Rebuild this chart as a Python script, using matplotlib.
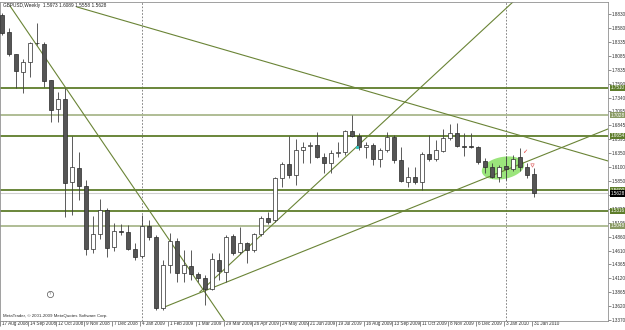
import matplotlib
matplotlib.use("Agg")
import matplotlib.pyplot as plt
import numpy as np
from matplotlib.transforms import blended_transform_factory, ScaledTranslation

plt.rcParams['font.family'] = ['Liberation Sans', 'DejaVu Sans']

# weekly GBPUSD candles, 17 Aug 2008 .. 31 Jan 2010
opens = [1.8812, 1.8509, 1.8117, 1.7796, 1.7974, 1.8305, 1.8295, 1.7653, 1.7135, 1.7314,
         1.5833, 1.6083, 1.5762, 1.4638, 1.4905, 1.5334, 1.4674, 1.4959, 1.4941, 1.4638,
         1.4513, 1.5048, 1.4852, 1.3585, 1.4352, 1.4781, 1.4210, 1.4335, 1.4192, 1.4120,
         1.3924, 1.4442, 1.4228, 1.4870, 1.4584, 1.4745, 1.4620, 1.4905, 1.5191, 1.5155,
         1.5905, 1.6154, 1.5958, 1.6404, 1.6475, 1.6493, 1.6279, 1.6172, 1.6351, 1.6368,
         1.6743, 1.6654, 1.6458, 1.6493, 1.6243, 1.6404, 1.6636, 1.6226, 1.5833, 1.5922,
         1.5833, 1.6333, 1.6243, 1.6386, 1.6618, 1.6707, 1.6475, 1.6475, 1.6458, 1.6208,
         1.6101, 1.5922, 1.6119, 1.6065, 1.6279, 1.6101, 1.5973]
highs = [1.8848, 1.8580, 1.8117, 1.8027, 1.8331, 1.8670, 1.8331, 1.7653, 1.7439, 1.7510,
         1.6654, 1.6368, 1.5869, 1.5227, 1.5530, 1.5369, 1.5102, 1.5084, 1.5066, 1.4745,
         1.5244, 1.5155, 1.4888, 1.4442, 1.4923, 1.4834, 1.4620, 1.4620, 1.4228, 1.4174,
         1.4567, 1.4567, 1.4888, 1.4905, 1.5030, 1.4763, 1.4923, 1.5227, 1.5298, 1.5922,
         1.6190, 1.6654, 1.6600, 1.6547, 1.6547, 1.6725, 1.6351, 1.6404, 1.6547, 1.6761,
         1.7028, 1.6707, 1.6547, 1.6529, 1.6440, 1.6725, 1.6672, 1.6458, 1.6101, 1.6101,
         1.6368, 1.6672, 1.6582, 1.6779, 1.6868, 1.6886, 1.6707, 1.6707, 1.6475, 1.6261,
         1.6172, 1.6136, 1.6297, 1.6315, 1.6440, 1.6172, 1.6089]
lows = [1.8456, 1.8081, 1.7510, 1.7421, 1.7706, 1.8277, 1.7528, 1.6904, 1.6904, 1.5209,
        1.5244, 1.5512, 1.4531, 1.4567, 1.4816, 1.4495, 1.4602, 1.4888, 1.4620, 1.4442,
        1.4477, 1.4798, 1.3550, 1.3550, 1.4210, 1.4049, 1.4049, 1.4085, 1.4049, 1.3639,
        1.3906, 1.4085, 1.4049, 1.4531, 1.4549, 1.4388, 1.4584, 1.4870, 1.5084, 1.5120,
        1.5744, 1.5905, 1.5780, 1.6172, 1.6172, 1.6261, 1.5994, 1.5994, 1.6279, 1.6315,
        1.6636, 1.6404, 1.6261, 1.6136, 1.6101, 1.6368, 1.6172, 1.5833, 1.5744, 1.5797,
        1.5690, 1.6208, 1.6208, 1.6368, 1.6582, 1.6458, 1.6297, 1.6440, 1.6154, 1.5994,
        1.5905, 1.5833, 1.5869, 1.6029, 1.6029, 1.5905, 1.5558]
closes = [1.8491, 1.8117, 1.7813, 1.7974, 1.8313, 1.8313, 1.7635, 1.7118, 1.7314, 1.5815,
          1.6101, 1.5762, 1.4638, 1.4905, 1.5334, 1.4656, 1.4959, 1.4941, 1.4638, 1.4495,
          1.5048, 1.4852, 1.3585, 1.4352, 1.4781, 1.4210, 1.4352, 1.4192, 1.4120, 1.3924,
          1.4459, 1.4245, 1.4852, 1.4567, 1.4745, 1.4620, 1.4905, 1.5191, 1.5120, 1.5905,
          1.6154, 1.5958, 1.6404, 1.6458, 1.6493, 1.6279, 1.6172, 1.6351, 1.6368, 1.6743,
          1.6654, 1.6458, 1.6493, 1.6243, 1.6404, 1.6636, 1.6226, 1.5851, 1.5922, 1.5833,
          1.6333, 1.6243, 1.6404, 1.6618, 1.6707, 1.6475, 1.6458, 1.6458, 1.6190, 1.6101,
          1.5922, 1.6101, 1.6065, 1.6243, 1.6101, 1.5958, 1.5628]

date_labels = ["17 Aug 2008", "14 Sep 2008", "12 Oct 2008", "9 Nov 2008", "7 Dec 2008",
               "4 Jan 2009", "1 Feb 2009", "1 Mar 2009", "29 Mar 2009", "26 Apr 2009",
               "24 May 2009", "21 Jun 2009", "19 Jul 2009", "16 Aug 2009", "13 Sep 2009",
               "11 Oct 2009", "8 Nov 2009", "6 Dec 2009", "3 Jan 2010", "31 Jan 2010"]
price_ticks = [1.8830, 1.8580, 1.8335, 1.8085, 1.7835, 1.7590, 1.7340, 1.7095, 1.6845,
               1.6595, 1.6350, 1.6100, 1.5850, 1.5605, 1.5355, 1.5105, 1.4860, 1.4610,
               1.4365, 1.4120, 1.3865, 1.3620, 1.3370]

# horizontal levels (value, strong?)
levels = [1.7510, 1.7028, 1.6654, 1.5690, 1.5316, 1.5048]
level_strong = [True, False, True, True, True, False]
bid = 1.5628

# trend lines: start anchor and second anchor (week index, price)
trend_lines = [((1.19, 1.8973), (32.2, 1.3282)),
               ((10.76, 1.8955), (86.6, 1.6208)),
               ((22.9, 1.3585), (86.6, 1.6779)),
               ((28.3, 1.3871), (73.33, 1.9080))]
year_breaks = [20, 72]

xmin, xmax = -0.243, 86.6
ymin, ymax = 1.3353, 1.9044

fig = plt.figure(figsize=(6.25, 3.3), dpi=100)
ax = fig.add_axes([0.0, 9 / 330, 608 / 625, 319 / 330])
ax.set_xlim(xmin, xmax)
ax.set_ylim(ymin, ymax)

px_x = 608 / (xmax - xmin)          # pixels per week
px_y = (ymax - ymin) / 319          # price per pixel

olive = '#5e7d2b'
light_olive = '#a9b78c'

# highlighted ellipse
cx, cy = 71.6, 1.6083
a, b, th = 21.5, 11.0, np.radians(11)
t = np.linspace(0, 2 * np.pi, 100)
ex = a * np.cos(t) * np.cos(th) - b * np.sin(t) * np.sin(th)
ey = a * np.cos(t) * np.sin(th) + b * np.sin(t) * np.cos(th)
ax.fill(cx + ex / px_x, cy + ey * px_y, color='#9be57c', zorder=1, lw=0)

# levels
for v, strong in zip(levels, level_strong):
    ax.axhline(v, color=olive if strong else light_olive, lw=1.3, zorder=2)
ax.axhline(bid, color='#d0d0d0', lw=0.8, zorder=1.5)

# trend lines as rays
for (x1, p1), (x2, p2) in trend_lines:
    k = (p2 - p1) / (x2 - x1)
    ax.plot([x1, xmax], [p1, p1 + k * (xmax - x1)], color='#6a8436', lw=0.8, zorder=2)

for xb in year_breaks:
    ax.axvline(xb, color='#707070', lw=0.6, ls=(0, (2, 2)), zorder=1.5)

# candles
x = np.arange(len(opens))
o = np.array(opens)
c = np.array(closes)
ax.vlines(x, lows, highs, color='#404040', lw=0.6, zorder=3)
up = c >= o
ax.bar(x, np.abs(c - o), bottom=np.minimum(o, c), width=0.55,
       color=np.where(up, 'white', '#555555'), edgecolor='#2a2a2a', linewidth=0.5, zorder=4)

# small objects on the chart
ax.plot([6.9], [1.3835], marker='o', ms=4.5, mfc='white', mec='#555555', mew=0.5, zorder=5)
ax.text(6.9, 1.3835, '?', fontsize=3, ha='center', va='center', color='#555555', zorder=6)
ax.text(74.76, 1.6368, '\u2713', fontsize=4.5, ha='center', va='center', color='#e03030', zorder=6)
ax.plot([75.76], [1.6136], marker='v', ms=2.5, mfc='white', mec='#e07070', mew=0.5, zorder=6)
ax.plot([50.76], [1.6454], marker='s', ms=1.2, color='#30c0c0', zorder=6)

# axes styling
for s in ax.spines.values():
    s.set_color('#909090')
    s.set_linewidth(0.6)
ax.yaxis.tick_right()
ax.set_yticks(price_ticks)
ax.set_yticklabels([f"{p:.4f}" for p in price_ticks])
ax.tick_params(axis='y', direction='out', length=2, width=0.5, color='#606060',
               labelsize=3.3, pad=1, labelcolor='#303030')
ax.set_xticks(x[::4] - 0.2)
ax.set_xticklabels(date_labels, ha='left')
ax.tick_params(axis='x', direction='out', length=3.5, width=0.5, color='#606060',
               labelsize=3.3, pad=-3.2, labelcolor='#303030')
off = ScaledTranslation(1.5 / 100, 0, fig.dpi_scale_trans)
for lab in ax.get_xticklabels():
    lab.set_transform(lab.get_transform() + off)

# price boxes on the right scale
tr = blended_transform_factory(ax.transAxes, ax.transData)
for v, strong in zip(levels, level_strong):
    ax.text(1.004, v, f"{v:.4f}", transform=tr, fontsize=3.3, color='white', va='center',
            ha='left', clip_on=False, zorder=10,
            bbox=dict(facecolor=olive if strong else '#8a9a64', edgecolor='none', pad=0.4))
ax.text(1.004, bid, f"{bid:.4f}", transform=tr, fontsize=3.3, color='white', va='center',
        ha='left', clip_on=False, zorder=10,
        bbox=dict(facecolor='black', edgecolor='none', pad=0.4))

fig.text(3 / 625, 1 - 6 / 330, "GBPUSD,Weekly  1.5973 1.6089 1.5558 1.5628",
         fontsize=3.4, color='#202020', va='center', ha='left')
fig.text(3 / 625, 1 - 316 / 330, "MetaTrader, \u00a9 2001-2009 MetaQuotes Software Corp.",
         fontsize=3.2, color='#303030', va='center', ha='left')

fig.savefig("out.png", dpi=100, facecolor='white')
